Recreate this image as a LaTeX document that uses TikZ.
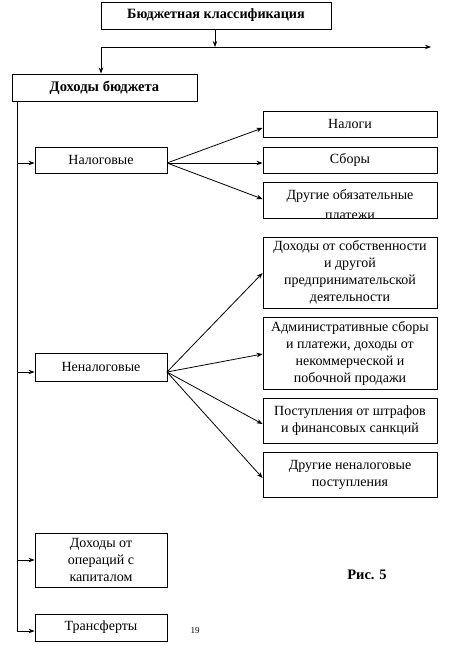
\documentclass[tikz,border=0pt]{standalone}
\usepackage{fontspec}
\setmainfont{Liberation Serif}
\usetikzlibrary{arrows.meta}
\begin{document}
\begin{tikzpicture}[x=1pt,y=-1pt,
  box/.style={draw,line width=0.9pt,inner sep=0pt,align=center,font=\fontsize{14}{17}\selectfont},
  txt/.style={inner sep=0pt,font=\fontsize{14}{17}\selectfont,anchor=base},
  conn/.style={line width=0.8pt,-{Stealth[length=6pt,width=4.5pt]}},
  plain/.style={line width=0.8pt}]
\useasboundingbox (0,0) rectangle (448,646);
% top
\node[box,minimum width=230pt,minimum height=27pt,font=\bfseries\fontsize{14.2}{16}\selectfont] (bk) at (216,15.5) {Бюджетная классификация};
\node[box,minimum width=185pt,minimum height=27pt,font=\bfseries\fontsize{14.6}{16}\selectfont] (db) at (104.5,87.5) {Доходы бюджета};
\coordinate (j) at (215,47);
\coordinate (jl) at (101,47);
\coordinate (jr) at (431,47);
\draw[conn] (bk.south -| j) -- (j);
\draw[plain] (jl) -- (j);
\draw[conn] (j) -- (jr);
\draw[conn] (jl) -- (jl |- db.north);
% left column
\node[box,minimum width=132pt,minimum height=26pt] (nal) at (101,160) {Налоговые};
\node[box,minimum width=132pt,minimum height=28pt] (nenal) at (101,367) {Неналоговые};
\node[box,minimum width=132pt,minimum height=54pt] (kap) at (101,560) {Доходы от\\операций с\\капиталом};
\node[box,minimum width=132pt,minimum height=27pt] (tr) at (101,627.5) {Трансферты};
\coordinate (t0) at (17,101);
\coordinate (t1) at (17,163);
\coordinate (t2) at (17,372);
\coordinate (t3) at (17,560);
\coordinate (t4) at (17,631);
\draw[plain] (t0) -- (t4);
\draw[conn] (t1) -- (t1 -| nal.west);
\draw[conn] (t2) -- (t2 -| nenal.west);
\draw[conn] (t3) -- (t3 -| kap.west);
\draw[conn] (t4) -- (t4 -| tr.west);
% tax
\node[box,minimum width=174pt,minimum height=26pt] (r1) at (350,124) {Налоги};
\node[box,minimum width=174pt,minimum height=26pt] (r2) at (350,160) {Сборы};
\node[box,minimum width=174pt,minimum height=35.5pt] (r3) at (350,200.5) {};
\begin{scope}
\clip (r3.south west) rectangle (r3.north east);
\node[txt] (r3a) at (350,199) {Другие обязательные};
\node[txt] (r3b) at (350,219.5) {платежи};
\end{scope}
\coordinate (ns) at (167,163);
\draw[conn] (ns) -- (r1.west |- 0,128);
\draw[conn] (ns) -- (r2.west |- 0,163);
\draw[conn] (ns) -- (r3.west |- 0,199);
% non-tax
\node[box,minimum width=174pt,minimum height=71pt] (n1) at (350,272.5) {Доходы от собственности\\и другой\\предпринимательской\\деятельности};
\node[box,minimum width=174pt,minimum height=72pt] (n2) at (350,353) {Административные сборы\\и платежи, доходы от\\некоммерческой и\\побочной продажи};
\node[box,minimum width=174pt,minimum height=45pt] (n3) at (350,420.5) {Поступления от штрафов\\и финансовых санкций};
\node[box,minimum width=174pt,minimum height=45pt] (n4) at (350,474.5) {Другие неналоговые\\поступления};
\coordinate (nn) at (167,372);
\draw[conn] (nn) -- (n1.west |- 0,273);
\draw[conn] (nn) -- (n2.west |- 0,354);
\draw[conn] (nn) -- (n3.west |- 0,424);
\draw[conn] (nn) -- (n4.west |- 0,478);
% labels
\node[font=\bfseries\fontsize{14.5}{17}\selectfont] (ris) at (367,575) {Рис. 5};
\node[font=\fontsize{9}{11}\selectfont] (pg) at (195,631) {19};
\end{tikzpicture}
\end{document}
